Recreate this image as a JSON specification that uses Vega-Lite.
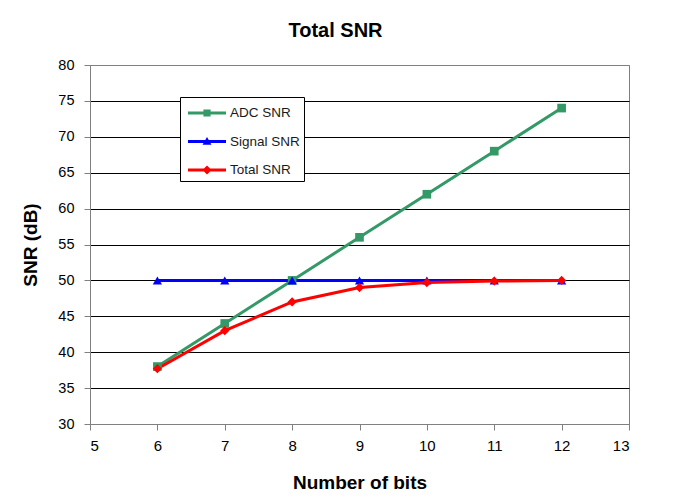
{
  "$schema": "https://vega.github.io/schema/vega-lite/v6.json",
  "width": 539,
  "height": 359,
  "autosize": {"type": "none"},
  "padding": {"left": 90, "top": 65, "right": 45, "bottom": 80},
  "background": "white",
  "title": {
    "text": "Total SNR",
    "font": "Liberation Sans",
    "fontSize": 20,
    "fontWeight": "bold",
    "color": "black",
    "frame": "group",
    "anchor": "middle",
    "dx": -24,
    "baseline": "alphabetic",
    "offset": 0
  },
  "data": {
    "values": [
      {"bits": 6, "series": "ADC SNR", "snr": 38},
      {"bits": 7, "series": "ADC SNR", "snr": 44},
      {"bits": 8, "series": "ADC SNR", "snr": 50},
      {"bits": 9, "series": "ADC SNR", "snr": 56},
      {"bits": 10, "series": "ADC SNR", "snr": 62},
      {"bits": 11, "series": "ADC SNR", "snr": 68},
      {"bits": 12, "series": "ADC SNR", "snr": 74},
      {"bits": 6, "series": "Signal SNR", "snr": 50},
      {"bits": 7, "series": "Signal SNR", "snr": 50},
      {"bits": 8, "series": "Signal SNR", "snr": 50},
      {"bits": 9, "series": "Signal SNR", "snr": 50},
      {"bits": 10, "series": "Signal SNR", "snr": 50},
      {"bits": 11, "series": "Signal SNR", "snr": 50},
      {"bits": 12, "series": "Signal SNR", "snr": 50},
      {"bits": 6, "series": "Total SNR", "snr": 37.7},
      {"bits": 7, "series": "Total SNR", "snr": 43.0},
      {"bits": 8, "series": "Total SNR", "snr": 47.0},
      {"bits": 9, "series": "Total SNR", "snr": 49.0},
      {"bits": 10, "series": "Total SNR", "snr": 49.7},
      {"bits": 11, "series": "Total SNR", "snr": 49.9},
      {"bits": 12, "series": "Total SNR", "snr": 50.0}
    ]
  },
  "encoding": {
    "x": {
      "field": "bits",
      "type": "quantitative",
      "scale": {"domain": [5, 13], "nice": false, "zero": false},
      "axis": {
        "title": "Number of bits",
        "values": [5, 6, 7, 8, 9, 10, 11, 12, 13],
        "grid": false,
        "tickSize": 6,
        "labelPadding": 8,
        "labelFontSize": 15,
        "titleFontSize": 19,
        "titlePadding": 20
      }
    },
    "y": {
      "field": "snr",
      "type": "quantitative",
      "scale": {"domain": [30, 80], "nice": false, "zero": false},
      "axis": {
        "title": "SNR (dB)",
        "values": [30, 35, 40, 45, 50, 55, 60, 65, 70, 75, 80],
        "grid": true,
        "gridColor": {
          "condition": {"test": "datum.value === 80 || datum.value === 30", "value": "#808080"},
          "value": "#000000"
        },
        "tickSize": 6,
        "labelPadding": 10,
        "labelFontSize": 14.5,
        "titleFontSize": 19,
        "titlePadding": 17
      }
    },
    "color": {
      "field": "series",
      "type": "nominal",
      "scale": {
        "domain": ["ADC SNR", "Signal SNR", "Total SNR"],
        "range": ["#339966", "#0000FF", "#FF0000"]
      },
      "legend": {
        "title": null,
        "orient": "none",
        "legendX": 90,
        "legendY": 32,
        "padding": 4,
        "fillColor": "white",
        "strokeColor": "black",
        "symbolSize": 576,
        "labelOffset": 22,
        "rowPadding": 9.5,
        "labelFont": "Liberation Sans",
        "labelFontSize": 13.5,
        "labelColor": "#1a1a1a",
        "encode": {
          "symbols": {
            "update": {
              "shape": {
                "signal": "datum.value === 'ADC SNR' ? 'M-0.667,-0.125H2.5V0.125H-0.667Z M0.617,-0.3H1.217V0.3H0.617Z' : datum.value === 'Signal SNR' ? 'M-0.667,-0.125H2.5V0.125H-0.667Z M0.917,-0.38L1.287,0.28H0.547Z' : 'M-0.667,-0.125H2.5V0.125H-0.667Z M0.917,-0.38L1.297,0L0.917,0.38L0.537,0Z'"
              },
              "fill": {"scale": "color", "field": "value"},
              "stroke": {"value": "transparent"},
              "strokeWidth": {"value": 0},
              "opacity": {"value": 1}
            }
          }
        }
      }
    }
  },
  "layer": [
    {"mark": {"type": "line", "strokeWidth": 3}},
    {
      "transform": [{"filter": "datum.series === 'ADC SNR'"}],
      "mark": {"type": "point", "shape": "square", "filled": true, "size": 75, "opacity": 1}
    },
    {
      "transform": [{"filter": "datum.series === 'Signal SNR'"}],
      "mark": {"type": "point", "shape": "triangle-up", "filled": true, "size": 85, "opacity": 1}
    },
    {
      "transform": [{"filter": "datum.series === 'Total SNR'"}],
      "mark": {"type": "point", "shape": "diamond", "filled": true, "size": 85, "opacity": 1}
    }
  ],
  "config": {
    "font": "Liberation Sans",
    "view": {"stroke": "#808080", "strokeWidth": 1},
    "axis": {
      "domainColor": "#808080",
      "tickColor": "#808080",
      "labelColor": "black",
      "labelFont": "Liberation Sans",
      "titleFont": "Liberation Sans",
      "titleFontWeight": "bold",
      "titleColor": "black",
      "gridWidth": 1,
      "gridOpacity": 1
    }
  }
}
